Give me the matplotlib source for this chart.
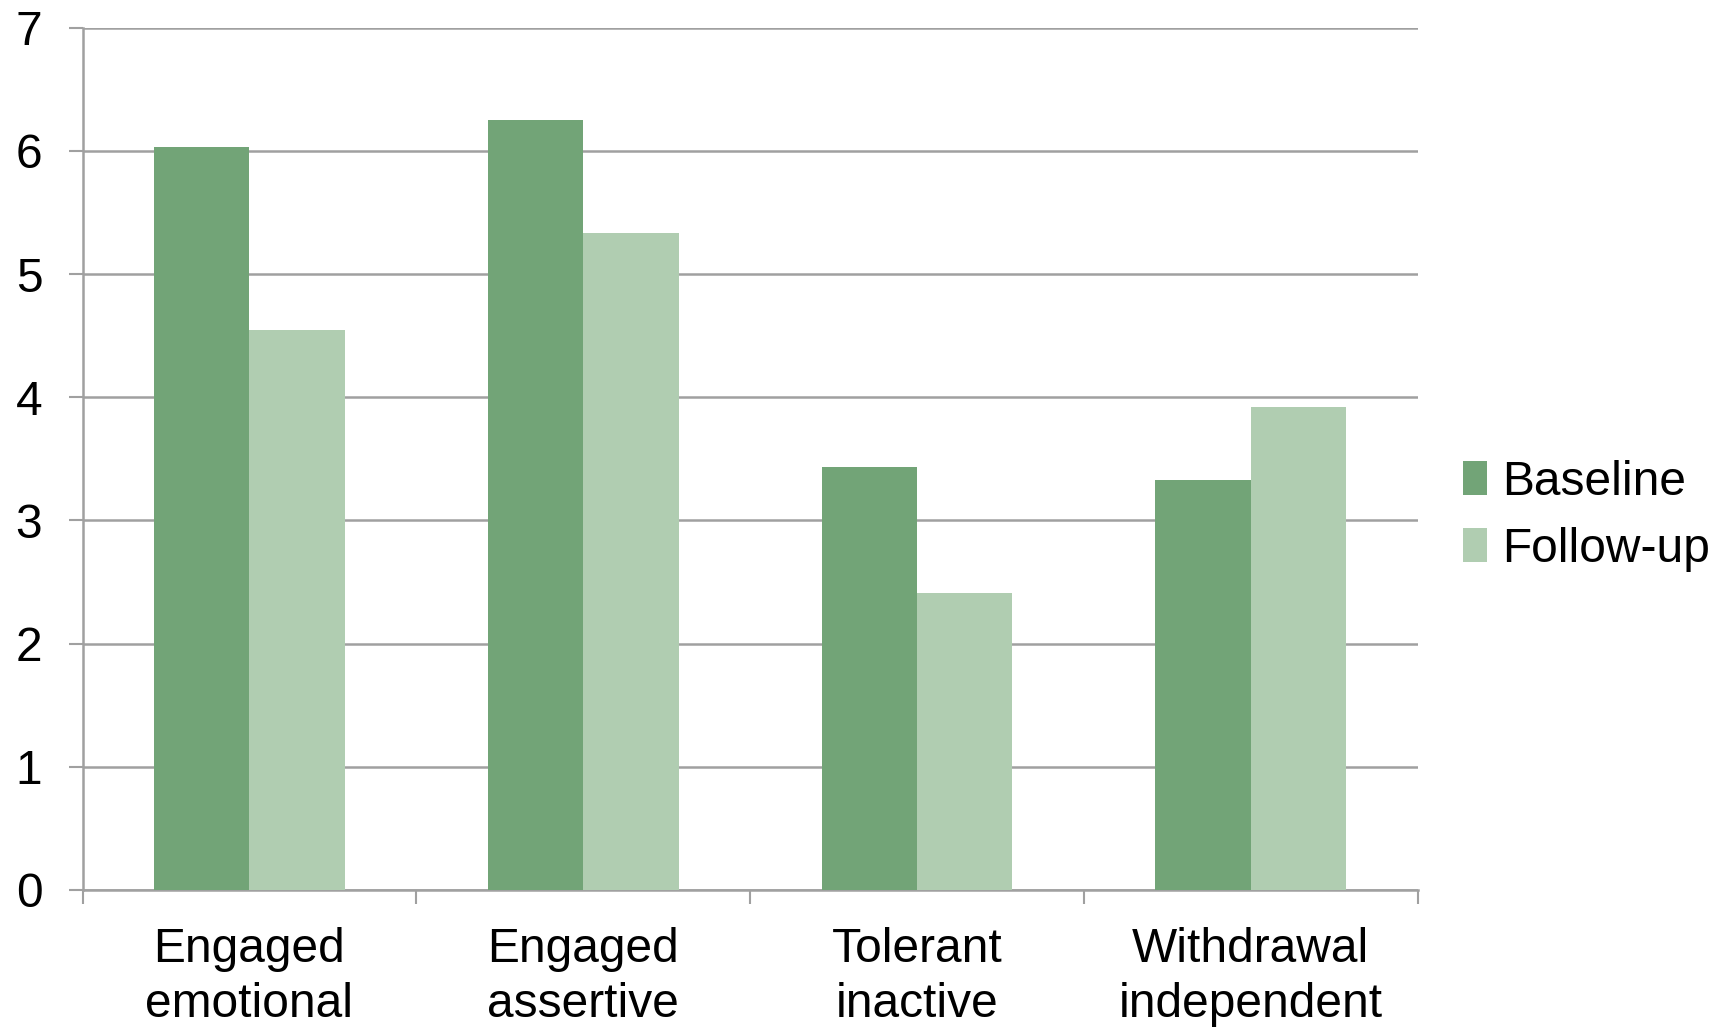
import numpy as np
import matplotlib
matplotlib.use('Agg')
import matplotlib.pyplot as plt
from matplotlib.ticker import FixedLocator, NullFormatter

plt.rcParams['font.family'] = ['Liberation Sans', 'DejaVu Sans']

CATEGORIES = ['Engaged\nemotional', 'Engaged\nassertive', 'Tolerant\ninactive', 'Withdrawal\nindependent']
BASELINE = [6.03, 6.25, 3.43, 3.33]
FOLLOW_UP = [4.55, 5.33, 2.41, 3.92]
SERIES = ['Baseline', 'Follow-up']
Y_TICKS = [0, 1, 2, 3, 4, 5, 6, 7]

C_BASE = '#72A477'
C_FOLL = '#B0CDB1'
GRID = '#A0A0A0'
FS = 34.5

fig = plt.figure(figsize=(17.27, 10.30), dpi=100)
ax = fig.add_axes([0.0478, 0.136, 0.7730, 0.837])

x = np.arange(len(CATEGORIES))
w = 1 / 3.5
ax.bar(x - w/2, BASELINE, w, color=C_BASE, label=SERIES[0], zorder=3)
ax.bar(x + w/2, FOLLOW_UP, w, color=C_FOLL, label=SERIES[1], zorder=3)

ax.set_xlim(-0.5, len(CATEGORIES) - 0.5)
ax.set_ylim(0, 7)

# major x ticks at category boundaries (no labels), minor at centres with labels
ax.xaxis.set_major_locator(FixedLocator(np.arange(len(CATEGORIES) + 1) - 0.5))
ax.xaxis.set_major_formatter(NullFormatter())
ax.xaxis.set_minor_locator(FixedLocator(x))
ax.set_xticklabels(CATEGORIES, minor=True, fontsize=FS, linespacing=1.27)
ax.tick_params(axis='x', which='major', length=10, width=1.5, color=GRID)
ax.tick_params(axis='x', which='minor', length=0, pad=27)

ax.set_yticks(Y_TICKS)
ax.tick_params(axis='y', length=10, width=1.5, color=GRID, labelsize=FS, pad=19)

ax.grid(axis='y', color=GRID, linewidth=1.8, zorder=0)
for s in ['top', 'right']:
    ax.spines[s].set_visible(False)
for s in ['left', 'bottom']:
    ax.spines[s].set_color(GRID)
    ax.spines[s].set_linewidth(1.8)

ax.legend(loc='center left', bbox_to_anchor=(1.02, 0.434), frameon=False,
          fontsize=FS, handlelength=0.5, handleheight=0.7, handletextpad=0.3,
          labelspacing=0.45, borderaxespad=0)

fig.savefig('out.png', dpi=100)
